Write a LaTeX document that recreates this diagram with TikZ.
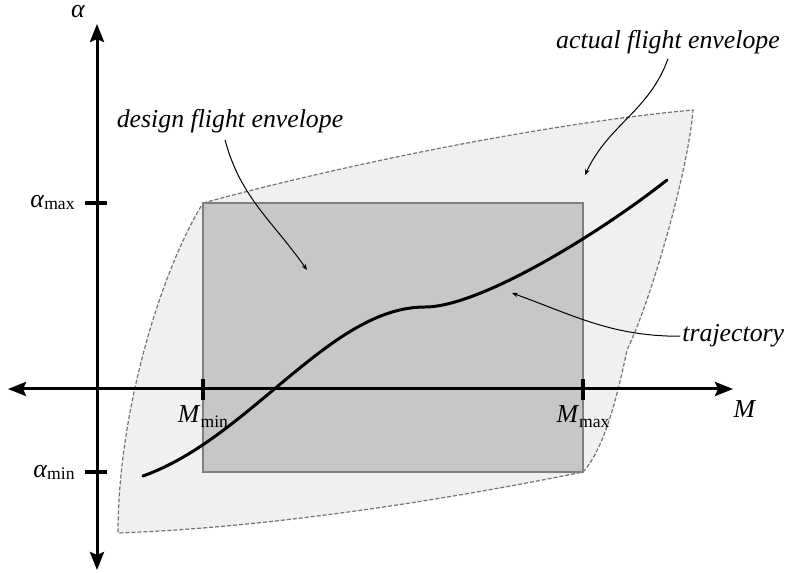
\documentclass[tikz,border=0pt]{standalone}
\usepackage{fontspec}
\setmainfont{Liberation Serif}
\usetikzlibrary{arrows.meta,positioning,calc}

\newcommand{\lowsub}[2]{\raisebox{-#1}{\fontsize{8.8}{10}\selectfont #2}}

\begin{document}
\begin{tikzpicture}[x=0.5pt,y=0.5pt,
  axis/.style={<->,>={Stealth[length=9pt,width=7pt,inset=1.5pt]},line width=1.5pt},
  tick/.style={line width=2pt},
  envelope/.style={draw=black!55,fill=black!6,line width=0.6pt,dash pattern=on 2pt off 1pt},
  design/.style={draw=black!50,fill=black!22,line width=0.8pt},
  traj/.style={line width=1.5pt,line cap=round},
  note/.style={->,>={Stealth[length=3pt,width=2.4pt]},line width=0.5pt},
  lab/.style={font=\fontsize{12.9}{15}\selectfont\itshape,inner sep=1pt},
  axlab/.style={font=\fontsize{12.9}{15}\selectfont,inner sep=0pt}
]
\useasboundingbox (0,0) rectangle (788,573);

% actual flight envelope
\draw[envelope] (203,370) .. controls (350,410) and (550,450) .. (693,463)
  .. controls (688,400) and (650,270) .. (627,223)
  .. controls (618,180) and (605,125) .. (583,101)
  .. controls (430,70) and (260,45) .. (118,40)
  .. controls (118,160) and (160,300) .. cycle;

% design flight envelope
\draw[design] (203,101) rectangle (583,370);

% axes
\coordinate (O)  at (97,184);
\coordinate (xl) at (8,184);
\coordinate (xr) at (733,184);
\coordinate (yb) at (97,3);
\coordinate (yt) at (97,549);
\draw[axis] (xl) -- (xr);
\draw[axis] (yb) -- (yt);

% ticks
\foreach \y in {370,101}
  \draw[tick] (85,\y) -- (107,\y);
\foreach \x in {203,583}
  \draw[tick] (\x,173) -- (\x,194);

\node[axlab,anchor=base]      (alpha) at (78,555)  {\textit{α}};
\node[axlab,anchor=base east] (amax)  at (75,365)  {\textit{α}\lowsub{1pt}{max}};
\node[axlab,anchor=base east] (amin)  at (75,95)   {\textit{α}\lowsub{1pt}{min}};
\node[axlab,anchor=base]      (mach)  at (745,155) {\textit{M}};
\node[axlab,anchor=base]      (mmin)  at (203,150) {\textit{M}\lowsub{2.5pt}{min}};
\node[axlab,anchor=base]      (mmax)  at (583,150) {\textit{M}\lowsub{2.5pt}{max}};

% trajectory
\draw[traj] (143,97) .. controls (250,135) and (330,266) .. (425,266)
  .. controls (480,266) and (600,340) .. (667,393);

% labels
\node[lab,anchor=base]      (dlab) at (230,445) {design flight envelope};
\node[lab,anchor=base]      (alab) at (668,524) {actual flight envelope};
\node[lab,anchor=base west] (tlab) at (680,231) {trajectory};

\coordinate (dtip) at (307,303);
\coordinate (atip) at (585,398);
\coordinate (ttip) at (512,280);

\draw[note] ($(dlab.south)+(-5,-4)$) to[out=-75,in=125] (dtip);
\draw[note] ($(alab.south)+(0,-2)$) to[out=-110,in=65] (atip);
\draw[note] (tlab.west) to[out=180,in=-20] (ttip);
\end{tikzpicture}
\end{document}
